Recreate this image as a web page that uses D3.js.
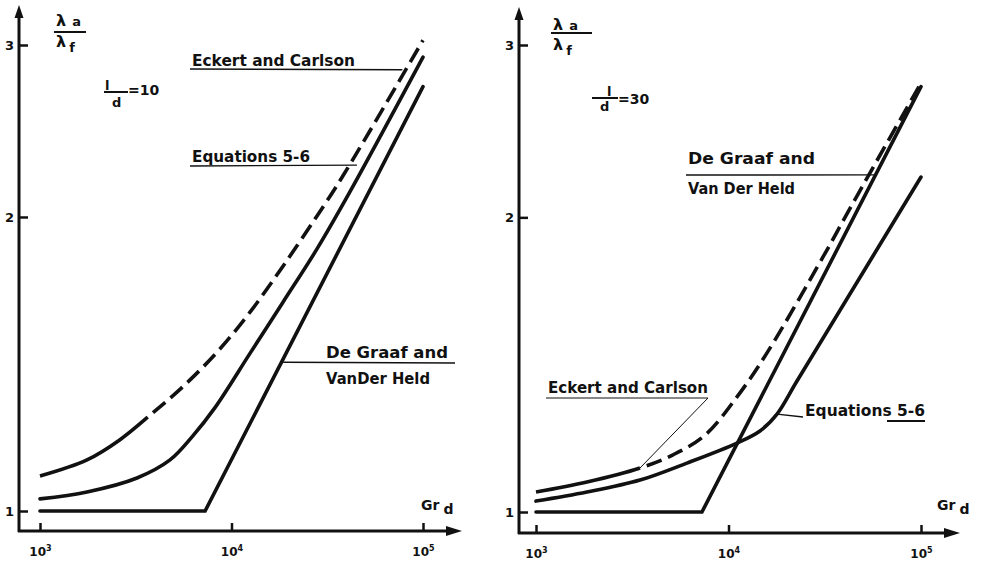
<!DOCTYPE html>
<html>
<head>
<meta charset="utf-8">
<script src="https://cdn.jsdelivr.net/npm/d3@7"></script>
<style>
  body { margin: 0; background: #fff; }
  svg { display: block; background: #fff; }
  text { font-family: "DejaVu Sans", sans-serif; font-weight: bold; fill: #111; }
</style>
</head>
<body>
<div id="chart"></div>
<script>
// tick values
const grTicks = [1e3, 1e4, 1e5];
const ratioTicks = [1, 2, 3];

// l/d = 10 (left panel)
const eckert10Gr = [1000, 1760, 2617, 3892, 5581, 8401, 12490, 18570, 27960, 38210, 100000];
const eckert10Ratio = [1.086, 1.128, 1.183, 1.261, 1.341, 1.454, 1.598, 1.781, 2.005, 2.204, 3.034];
const eckert10SolidTo = 3650; // Gr where the curve turns dashed

const equations10Gr = [1000, 1760, 3210, 4775, 6220, 8200, 12490, 18570, 27960, 41580, 100000];
const equations10Ratio = [1.029, 1.046, 1.081, 1.128, 1.191, 1.276, 1.450, 1.636, 1.855, 2.123, 2.915];

const deGraaf10Gr = [1000, 7280, 100000];
const deGraaf10Ratio = [1, 1, 2.72];

// l/d = 30 (right panel)
const eckert30Gr = [1000, 1840, 3470, 5150, 7550, 11070, 15850, 30970, 44350, 100000];
const eckert30Ratio = [1.048, 1.073, 1.109, 1.144, 1.198, 1.311, 1.454, 1.822, 2.069, 2.743];
const eckert30SolidTo = 3470;

const equations30Gr = [1000, 1840, 3470, 6085, 11070, 14570, 17860, 22690, 56320, 100000];
const equations30Ratio = [1.026, 1.048, 1.078, 1.122, 1.176, 1.210, 1.259, 1.361, 1.826, 2.199];

const deGraaf30Gr = [1000, 7280, 100000];
const deGraaf30Ratio = [1, 1, 2.72];

const SVG_W = 982;
const SVG_H = 562;
const INK = '#111';
const DASH = 16, GAP = 7;

const svg = d3.select('#chart')
  .append('svg')
  .attr('width', SVG_W)
  .attr('height', SVG_H);

const zip = (gr, ratio) => gr.map((d, i) => ({ gr: d, ratio: ratio[i] }));

const panels = [
  {
    ld: 10, axisX: 19, axisY: 531, yTip: 5, xTip: 462,
    xRange: [40, 423], yRange: [511, 45],
    eckert: zip(eckert10Gr, eckert10Ratio), solidTo: eckert10SolidTo,
    equations: zip(equations10Gr, equations10Ratio),
    deGraaf: zip(deGraaf10Gr, deGraaf10Ratio),
    lambda: { x: 56, yTop: 26, yBot: 47, bar: [54, 86, 32] },
    ldLabel: { x: 105, bar: [104, 128, 92], lY: 90, dX: 112, dY: 107, eqX: 128, eqY: 95 },
    grLabel: { x: 421, y: 510 },
    notes: [
      { text: ['Eckert and Carlson'], x: 192, y: [66], len: [163], lead: [[190, 69]], anchor: [78000, 2.83] },
      { text: ['Equations 5-6'], x: 192, y: [162], len: [118], lead: [[190, 166]], anchor: [45200, 2.26] },
      { text: ['De Graaf  and', 'VanDer Held'], x: 326, y: [358, 384], len: [122, 104], lead: [[455, 363]], anchor: [18600, 1.42] }
    ]
  },
  {
    ld: 30, axisX: 519, axisY: 533, yTip: 7, xTip: 960,
    xRange: [536, 921], yRange: [512, 45],
    eckert: zip(eckert30Gr, eckert30Ratio), solidTo: eckert30SolidTo,
    equations: zip(equations30Gr, equations30Ratio),
    deGraaf: zip(deGraaf30Gr, deGraaf30Ratio),
    lambda: { x: 553, yTop: 30, yBot: 50, bar: [551, 592, 33] },
    ldLabel: { x: 607, bar: [592, 618, 98], lY: 96, dX: 600, dY: 111, eqX: 618, eqY: 104 },
    grLabel: { x: 937, y: 510 },
    notes: [
      { text: ['De Graaf and', 'Van Der Held'], x: 688, y: [164, 194], len: [127, 107], lead: [[686, 175]], anchor: [57700, 2.21] },
      { text: ['Eckert and Carlson'], x: 548, y: [393], len: [160], lead: [[546, 398], [708, 398]], anchor: [3470, 1.109], thin: true },
      { text: ['Equations 5-6'], x: 805, y: [416], len: [120], lead: [[803, 417]], anchor: [17860, 1.259], under: [[887, 421], [925, 421]] }
    ]
  }
];

panels.forEach(drawPanel);

function drawPanel(p) {
  const g = svg.append('g');
  const x = d3.scaleLog().domain([1e3, 1e5]).range(p.xRange);
  const y = d3.scaleLog().domain([1, 3]).range(p.yRange);

  // ticks
  const yAxis = g.append('g')
    .attr('transform', `translate(${p.axisX},0)`)
    .call(d3.axisLeft(y).tickValues(ratioTicks).tickFormat(d3.format('d'))
      .tickSizeInner(-9).tickSizeOuter(0).tickPadding(5));
  yAxis.select('.domain').remove();
  yAxis.selectAll('line').attr('stroke', INK).attr('stroke-width', 2.5);
  yAxis.selectAll('text').attr('font-size', 13).attr('font-family', null).attr('fill', INK);

  const xAxis = g.append('g')
    .attr('transform', `translate(0,${p.axisY})`)
    .call(d3.axisBottom(x).tickValues(grTicks).tickFormat('')
      .tickSizeInner(-8).tickSizeOuter(0));
  xAxis.select('.domain').remove();
  xAxis.selectAll('line').attr('stroke', INK).attr('stroke-width', 2.5);
  xAxis.selectAll('.tick text').remove();
  xAxis.selectAll('.tick').append('text')
    .attr('y', 25)
    .attr('text-anchor', 'middle')
    .attr('font-size', 12)
    .attr('font-family', null)
    .attr('fill', INK)
    .each(function (d) {
      const t = d3.select(this);
      t.append('tspan').text('10');
      t.append('tspan').attr('dy', -5).attr('font-size', 8).text(Math.round(Math.log10(d)));
    });

  // axis lines + arrows
  g.append('line')
    .attr('x1', p.axisX).attr('y1', p.axisY + 1)
    .attr('x2', p.axisX).attr('y2', p.yTip + 8)
    .attr('stroke', INK).attr('stroke-width', 3);
  g.append('line')
    .attr('x1', p.axisX - 1).attr('y1', p.axisY)
    .attr('x2', p.xTip - 10).attr('y2', p.axisY)
    .attr('stroke', INK).attr('stroke-width', 3);
  g.append('path')
    .attr('d', `M${p.axisX},${p.yTip} L${p.axisX - 4.5},${p.yTip + 13} L${p.axisX + 4.5},${p.yTip + 13} Z`)
    .attr('fill', INK);
  g.append('path')
    .attr('d', `M${p.xTip},${p.axisY} L${p.xTip - 16},${p.axisY - 5} L${p.xTip - 16},${p.axisY + 5} Z`)
    .attr('fill', INK);

  // curves
  const smooth = d3.line().x(d => x(d.gr)).y(d => y(d.ratio)).curve(d3.curveCatmullRom.alpha(0.5));
  const straight = d3.line().x(d => x(d.gr)).y(d => y(d.ratio));

  const curveStyle = sel => sel.attr('fill', 'none').attr('stroke', INK)
    .attr('stroke-width', 3.6).attr('stroke-linecap', 'round').attr('stroke-linejoin', 'round');

  g.append('path').datum(p.deGraaf).attr('d', straight).call(curveStyle).attr('stroke-linejoin', 'miter');
  g.append('path').datum(p.equations).attr('d', smooth).call(curveStyle);
  const eck = g.append('path').datum(p.eckert).attr('d', smooth).call(curveStyle)
    .attr('stroke-linecap', 'butt');

  // solid up to solidTo, then dashed
  const node = eck.node();
  const total = node.getTotalLength();
  const xs = x(p.solidTo);
  let lo = 0, hi = total;
  for (let i = 0; i < 30; i++) {
    const mid = (lo + hi) / 2;
    if (node.getPointAtLength(mid).x < xs) lo = mid; else hi = mid;
  }
  const dashes = [lo];
  let acc = lo;
  while (acc < total) { dashes.push(GAP, DASH); acc += GAP + DASH; }
  if (dashes.length % 2) dashes.push(GAP);
  eck.attr('stroke-dasharray', dashes.join(' '));

  // annotations
  p.notes.forEach(n => {
    n.text.forEach((t, i) => {
      g.append('text')
        .attr('x', n.x).attr('y', n.y[i])
        .attr('font-size', 15)
        .attr('textLength', n.len[i])
        .attr('lengthAdjust', 'spacingAndGlyphs')
        .text(t);
    });
    const pts = n.lead.concat([[x(n.anchor[0]), y(n.anchor[1])]]);
    g.append('path')
      .attr('d', d3.line()(pts))
      .attr('fill', 'none').attr('stroke', INK)
      .attr('stroke-width', n.thin ? 1 : 1.4);
    if (n.under) {
      g.append('path').attr('d', d3.line()(n.under))
        .attr('stroke', INK).attr('stroke-width', 1.8);
    }
  });

  // lambda_a / lambda_f
  const lam = p.lambda;
  const la = g.append('text').attr('x', lam.x).attr('y', lam.yTop).attr('font-size', 16);
  la.append('tspan').text('λ');
  la.append('tspan').attr('dx', 6).attr('font-size', 13).text('a');
  g.append('line')
    .attr('x1', lam.bar[0]).attr('x2', lam.bar[1])
    .attr('y1', lam.bar[2]).attr('y2', lam.bar[2])
    .attr('stroke', INK).attr('stroke-width', 2);
  const lf = g.append('text').attr('x', lam.x).attr('y', lam.yBot).attr('font-size', 16);
  lf.append('tspan').text('λ');
  lf.append('tspan').attr('dx', 3).attr('dy', 5).attr('font-size', 13).text('f');

  // l/d = ..
  const ld = p.ldLabel;
  g.append('text').attr('x', ld.x).attr('y', ld.lY).attr('font-size', 13).text('l');
  g.append('line')
    .attr('x1', ld.bar[0]).attr('x2', ld.bar[1])
    .attr('y1', ld.bar[2]).attr('y2', ld.bar[2])
    .attr('stroke', INK).attr('stroke-width', 2);
  g.append('text').attr('x', ld.dX).attr('y', ld.dY).attr('font-size', 13).text('d');
  g.append('text').attr('x', ld.eqX).attr('y', ld.eqY).attr('font-size', 14).text('=' + p.ld);

  // Gr_d
  const gr = g.append('text').attr('x', p.grLabel.x).attr('y', p.grLabel.y).attr('font-size', 14);
  gr.append('tspan').text('Gr');
  gr.append('tspan').attr('dx', 4).attr('dy', 4).text('d');
}
</script>
</body>
</html>
